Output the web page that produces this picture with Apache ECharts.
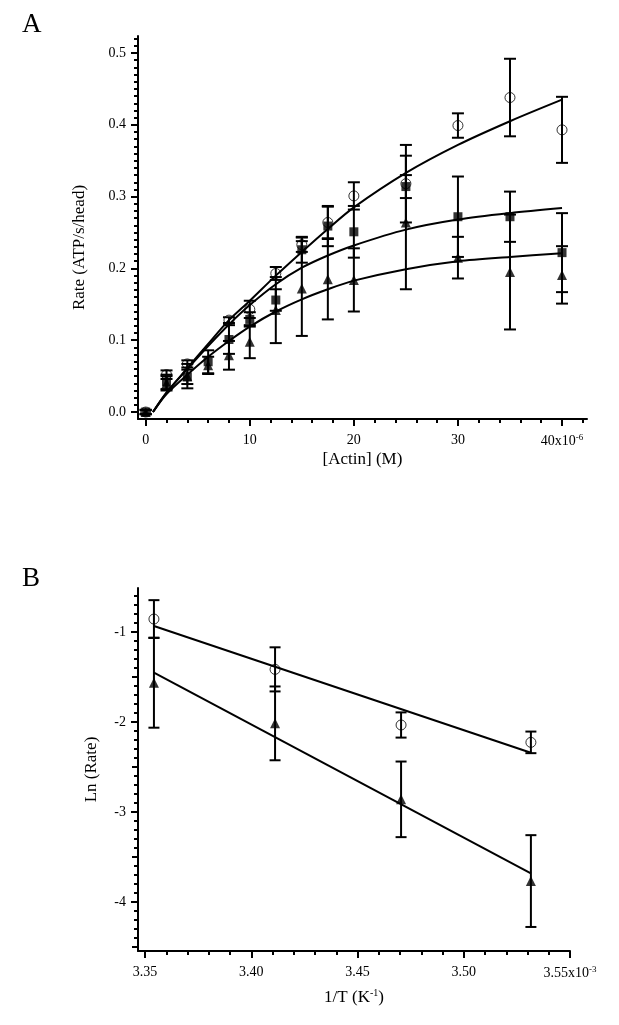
<!DOCTYPE html>
<html><head><meta charset="utf-8">
<script src="https://cdn.jsdelivr.net/npm/echarts@6/dist/echarts.min.js"></script>
<style>html,body{margin:0;padding:0;background:#fff}#c{width:619px;height:1025px}</style>
</head><body><div id="c"></div>
<script>
// ---------- Panel A : rate vs [Actin] ----------
const actinX = [0, 2, 4, 6, 8, 10, 12.5, 15, 17.5, 20, 25, 30, 35, 40];
const circleX = [0, 2, 4, 8, 10, 12.5, 15, 17.5, 20, 25, 30, 35, 40];
const circleY = [0, 0.052, 0.067, 0.128, 0.143, 0.193, 0.233, 0.264, 0.301, 0.318, 0.399, 0.438, 0.393];
const circleErr = [0.003, 0.006, 0.005, 0.004, 0.012, 0.009, 0.010, 0.022, 0.019, 0.054, 0.017, 0.054, 0.046];
const squareY = [0, 0.042, 0.049, 0.070, 0.101, 0.129, 0.156, 0.226, 0.259, 0.251, 0.314, 0.272, 0.272, 0.222];
const squareErr = [0.003, 0.010, 0.010, 0.016, 0.020, 0.010, 0.015, 0.018, 0.028, 0.036, 0.016, 0.056, 0.035, 0.055];
const triY = [0, 0.040, 0.050, 0.065, 0.079, 0.098, 0.142, 0.172, 0.185, 0.184, 0.264, 0.215, 0.195, 0.191];
const triErr = [0.003, 0.010, 0.017, 0.012, 0.020, 0.023, 0.046, 0.066, 0.056, 0.044, 0.093, 0.029, 0.080, 0.040];
const fitX = [0.7, 2, 4, 6, 8, 10, 12.5, 15, 17.5, 20, 25, 30, 35, 40];
const fitCircle = [0, 0.027, 0.061, 0.095, 0.128, 0.155, 0.190, 0.223, 0.255, 0.285, 0.333, 0.372, 0.405, 0.435];
const fitSquare = [0, 0.027, 0.060, 0.092, 0.122, 0.149, 0.178, 0.201, 0.218, 0.232, 0.254, 0.268, 0.277, 0.284];
const fitTri = [0, 0.025, 0.052, 0.077, 0.099, 0.119, 0.140, 0.157, 0.171, 0.183, 0.199, 0.210, 0.216, 0.221];
const xTicksA = [0, 10, 20, 30, 40];
const xTickLabelsA = ['0', '10', '20', '30', '40x10{sup|-6}'];
const xMinorA = [0, 2, 4, 6, 8, 10, 12, 14, 16, 18, 20, 22, 24, 26, 28, 30, 32, 34, 36, 38, 40, 42];
const yTicksA = [0, 0.1, 0.2, 0.3, 0.4, 0.5];
const yTickLabelsA = ['0.0', '0.1', '0.2', '0.3', '0.4', '0.5'];
const yMinorA = [0, 0.01, 0.02, 0.03, 0.04, 0.05, 0.06, 0.07, 0.08, 0.09, 0.1, 0.11, 0.12, 0.13, 0.14, 0.15, 0.16, 0.17, 0.18, 0.19, 0.2, 0.21, 0.22, 0.23, 0.24, 0.25, 0.26, 0.27, 0.28, 0.29, 0.3, 0.31, 0.32, 0.33, 0.34, 0.35, 0.36, 0.37, 0.38, 0.39, 0.4, 0.41, 0.42, 0.43, 0.44, 0.45, 0.46, 0.47, 0.48, 0.49, 0.5, 0.51, 0.52];

// ---------- Panel B : Arrhenius ----------
const invT = [3.3542, 3.4112, 3.4705, 3.5316];
const lnCircle = [-0.856, -1.415, -2.033, -2.226];
const lnCircleErr = [0.21, 0.245, 0.14, 0.12];
const lnTri = [-1.563, -2.015, -2.859, -3.767];
const lnTriErr = [0.50, 0.41, 0.42, 0.51];
const fitBX = [3.3542, 3.5316];
const fitBCircle = [-0.933, -2.341];
const fitBTri = [-1.452, -3.681];
const xTicksB = [3.35, 3.40, 3.45, 3.50, 3.55];
const xTickLabelsB = ['3.35', '3.40', '3.45', '3.50', '3.55x10{sup|-3}'];
const xMinorB = [3.35, 3.36, 3.37, 3.38, 3.39, 3.40, 3.41, 3.42, 3.43, 3.44, 3.45, 3.46, 3.47, 3.48, 3.49, 3.50, 3.51, 3.52, 3.53, 3.54, 3.55];
const yTicksB = [-1, -2, -3, -4];
const yTickLabelsB = ['-1', '-2', '-3', '-4'];
const yMidB = [-0.5, -1.5, -2.5, -3.5, -4.5];
const yMinorB = [-0.6, -0.7, -0.8, -0.9, -1.0, -1.1, -1.2, -1.3, -1.4, -1.5, -1.6, -1.7, -1.8, -1.9, -2.0, -2.1, -2.2, -2.3, -2.4, -2.5, -2.6, -2.7, -2.8, -2.9, -3.0, -3.1, -3.2, -3.3, -3.4, -3.5, -3.6, -3.7, -3.8, -3.9, -4.0, -4.1, -4.2, -4.3, -4.4, -4.5];

const FONT = 'Liberation Serif';
const BLACK = '#000';

function zip3(xs, ys, es) { return xs.map((x, i) => [x, ys[i], es[i]]); }
function zip2(xs, ys) { return xs.map((x, i) => [x, ys[i]]); }
function labelFrom(ticks, labels) {
  return v => { const i = ticks.findIndex(t => Math.abs(t - v) < 1e-9); return i >= 0 ? labels[i] : ''; };
}
function errRender(capW) {
  return function (params, api) {
    const x = api.value(0), y = api.value(1), e = api.value(2);
    const t = api.coord([x, y + e]), b = api.coord([x, y - e]);
    const h = capW / 2, st = { stroke: BLACK, lineWidth: 2 };
    return { type: 'group', children: [
      { type: 'line', shape: { x1: t[0], y1: t[1], x2: b[0], y2: b[1] }, style: st },
      { type: 'line', shape: { x1: t[0] - h, y1: t[1], x2: t[0] + h, y2: t[1] }, style: st },
      { type: 'line', shape: { x1: b[0] - h, y1: b[1], x2: b[0] + h, y2: b[1] }, style: st }
    ] };
  };
}
const rich = { sup: { fontSize: 9, fontFamily: FONT, color: BLACK, verticalAlign: 'top', padding: [0, 0, 8, 0] } };

function mainAxis(o) {
  return Object.assign({
    type: 'value', splitLine: { show: false },
    axisLine: { show: true, onZero: false, lineStyle: { color: BLACK, width: 2 } },
    axisTick: { show: true, inside: false, length: 7, lineStyle: { color: BLACK, width: 2 } },
    axisLabel: { color: BLACK, fontFamily: FONT, fontSize: 14, rich: rich },
    nameTextStyle: { color: BLACK, fontFamily: FONT, fontSize: 17, rich: { sup: { fontSize: 10, fontFamily: FONT, verticalAlign: 'top', padding: [0, 0, 9, 0] } } }
  }, o);
}
function tickAxis(o, len, vals) {
  return Object.assign({
    type: 'value', splitLine: { show: false },
    axisLine: { show: false, onZero: false },
    axisLabel: { show: false },
    axisTick: { show: true, inside: false, length: len, customValues: vals, lineStyle: { color: BLACK, width: 2 } }
  }, o);
}

const xA = { gridIndex: 0, min: -0.74, max: 42.4, position: 'bottom' };
const yA = { gridIndex: 0, min: -0.0097, max: 0.5237, position: 'left' };
const xB = { gridIndex: 1, min: 3.3467, max: 3.55, position: 'bottom' };
const yB = { gridIndex: 1, min: -4.544, max: -0.511, position: 'left' };

const chart = echarts.init(document.getElementById('c'), null, { renderer: 'canvas' });
chart.setOption({
  backgroundColor: '#fff',
  animation: false,
  title: [
    { text: 'A', left: 17, top: 6, textStyle: { fontFamily: FONT, fontSize: 27, fontWeight: 'normal', color: BLACK } },
    { text: 'B', left: 17, top: 560, textStyle: { fontFamily: FONT, fontSize: 27, fontWeight: 'normal', color: BLACK } }
  ],
  grid: [
    { left: 138, top: 36, width: 449, height: 383 },
    { left: 138, top: 588, width: 432, height: 363 }
  ],
  xAxis: [
    mainAxis(Object.assign({}, xA, {
      name: '[Actin] (M)', nameLocation: 'middle', nameGap: 32,
      axisTick: { show: true, length: 7, customValues: xTicksA, lineStyle: { color: BLACK, width: 2 } },
      axisLabel: { color: BLACK, fontFamily: FONT, fontSize: 14, margin: 14, customValues: xTicksA, formatter: labelFrom(xTicksA, xTickLabelsA), rich: rich }
    })),
    tickAxis(Object.assign({}, xA), 4, xMinorA),
    mainAxis(Object.assign({}, xB, {
      name: '1/T (K{sup|-1})', nameLocation: 'middle', nameGap: 37,
      axisTick: { show: true, length: 7, customValues: xTicksB, lineStyle: { color: BLACK, width: 2 } },
      axisLabel: { color: BLACK, fontFamily: FONT, fontSize: 14, margin: 14, customValues: xTicksB, formatter: labelFrom(xTicksB, xTickLabelsB), rich: rich }
    })),
    tickAxis(Object.assign({}, xB), 4, xMinorB)
  ],
  yAxis: [
    mainAxis(Object.assign({}, yA, {
      name: 'Rate (ATP/s/head)', nameLocation: 'middle', nameGap: 50,
      nameTextStyle: { color: BLACK, fontFamily: FONT, fontSize: 17, padding: [0, 40, 0, 0] },
      axisTick: { show: true, length: 7, customValues: yTicksA, lineStyle: { color: BLACK, width: 2 } },
      axisLabel: { color: BLACK, fontFamily: FONT, fontSize: 14, margin: 12, customValues: yTicksA, formatter: labelFrom(yTicksA, yTickLabelsA) }
    })),
    tickAxis(Object.assign({}, yA), 4, yMinorA),
    mainAxis(Object.assign({}, yB, {
      name: 'Ln (Rate)', nameLocation: 'middle', nameGap: 38,
      axisTick: { show: true, length: 7, customValues: yTicksB, lineStyle: { color: BLACK, width: 2 } },
      axisLabel: { color: BLACK, fontFamily: FONT, fontSize: 14, margin: 12, customValues: yTicksB, formatter: labelFrom(yTicksB, yTickLabelsB) }
    })),
    tickAxis(Object.assign({}, yB), 4, yMinorB),
    tickAxis(Object.assign({}, yB), 6, yMidB)
  ],
  series: [
    // Panel A fits
    { type: 'line', xAxisIndex: 0, yAxisIndex: 0, data: zip2(fitX, fitCircle), smooth: 0.3, showSymbol: false, symbol: 'none', lineStyle: { color: BLACK, width: 2 }, z: 2 },
    { type: 'line', xAxisIndex: 0, yAxisIndex: 0, data: zip2(fitX, fitSquare), smooth: 0.3, showSymbol: false, symbol: 'none', lineStyle: { color: BLACK, width: 2 }, z: 2 },
    { type: 'line', xAxisIndex: 0, yAxisIndex: 0, data: zip2(fitX, fitTri), smooth: 0.3, showSymbol: false, symbol: 'none', lineStyle: { color: BLACK, width: 2 }, z: 2 },
    // Panel A error bars
    { type: 'custom', xAxisIndex: 0, yAxisIndex: 0, renderItem: errRender(12), data: zip3(circleX, circleY, circleErr), z: 3 },
    { type: 'custom', xAxisIndex: 0, yAxisIndex: 0, renderItem: errRender(12), data: zip3(actinX, squareY, squareErr), z: 3 },
    { type: 'custom', xAxisIndex: 0, yAxisIndex: 0, renderItem: errRender(12), data: zip3(actinX, triY, triErr), z: 3 },
    // Panel A markers
    { type: 'scatter', xAxisIndex: 0, yAxisIndex: 0, data: zip2(actinX, triY), symbol: 'triangle', symbolSize: 10, itemStyle: { color: BLACK }, z: 4 },
    { type: 'scatter', xAxisIndex: 0, yAxisIndex: 0, data: zip2(actinX, squareY), symbol: 'rect', symbolSize: 9, itemStyle: { color: BLACK }, z: 4 },
    { type: 'scatter', xAxisIndex: 0, yAxisIndex: 0, data: zip2(circleX, circleY), symbol: 'circle', symbolSize: 10, itemStyle: { color: 'transparent', borderColor: BLACK, borderWidth: 1 }, z: 5 },
    // Panel B
    { type: 'line', xAxisIndex: 2, yAxisIndex: 2, data: zip2(fitBX, fitBCircle), showSymbol: false, symbol: 'none', lineStyle: { color: BLACK, width: 2 }, z: 2 },
    { type: 'line', xAxisIndex: 2, yAxisIndex: 2, data: zip2(fitBX, fitBTri), showSymbol: false, symbol: 'none', lineStyle: { color: BLACK, width: 2 }, z: 2 },
    { type: 'custom', xAxisIndex: 2, yAxisIndex: 2, renderItem: errRender(11), data: zip3(invT, lnCircle, lnCircleErr), z: 3 },
    { type: 'custom', xAxisIndex: 2, yAxisIndex: 2, renderItem: errRender(11), data: zip3(invT, lnTri, lnTriErr), z: 3 },
    { type: 'scatter', xAxisIndex: 2, yAxisIndex: 2, data: zip2(invT, lnTri), symbol: 'triangle', symbolSize: 10, itemStyle: { color: BLACK }, z: 4 },
    { type: 'scatter', xAxisIndex: 2, yAxisIndex: 2, data: zip2(invT, lnCircle), symbol: 'circle', symbolSize: 10, itemStyle: { color: 'transparent', borderColor: BLACK, borderWidth: 1 }, z: 5 }
  ]
});
</script></body></html>
